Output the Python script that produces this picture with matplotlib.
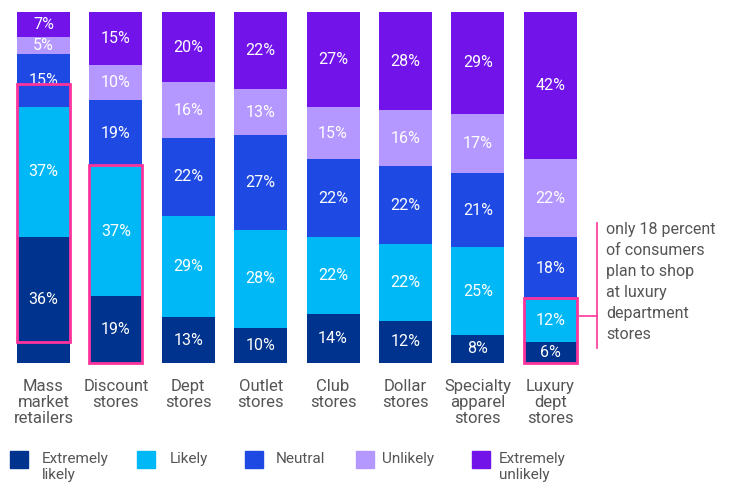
import matplotlib
matplotlib.use("Agg")
import matplotlib.pyplot as plt
from matplotlib.patches import Rectangle
from matplotlib.lines import Line2D
import numpy as np

categories = ["Mass\nmarket\nretailers", "Discount\nstores", "Dept\nstores", "Outlet\nstores",
              "Club\nstores", "Dollar\nstores", "Specialty\napparel\nstores", "Luxury\ndept\nstores"]
series_names = ["Extremely\nlikely", "Likely", "Neutral", "Unlikely", "Extremely\nunlikely"]
extremely_likely = [36, 19, 13, 10, 14, 12, 8, 6]
likely = [37, 37, 29, 28, 22, 22, 25, 12]
neutral = [15, 19, 22, 27, 22, 22, 21, 18]
unlikely = [5, 10, 16, 13, 15, 16, 17, 22]
extremely_unlikely = [7, 15, 20, 22, 27, 28, 29, 42]
highlighted = [0, 1, 7]
note = "only 18 percent\nof consumers\nplan to shop\nat luxury\ndepartment\nstores"

colors = ["#00338D", "#00B8F5", "#1E49E2", "#B497FF", "#7213EA"]
pink = "#FD349C"
textgray = "#555555"
font = "Roboto"
plt.rcParams['font.family'] = [font, 'DejaVu Sans']

W, H = 738, 483
fig = plt.figure(figsize=(W / 100, H / 100), dpi=100)
# axes spans full width; y from px 12 to 363
ax = fig.add_axes([0, (H - 363) / H, 1, 351 / H])
spacing = 72.4
x0 = 43.5
ax.set_xlim(-x0 / spacing, (W - x0) / spacing)
ax.set_ylim(0, 100)
ax.axis("off")

data = [extremely_likely, likely, neutral, unlikely, extremely_unlikely]
x = np.arange(len(categories))
bw = 53 / spacing
bottom = np.zeros(len(categories))
for vals, col in zip(data, colors):
    vals = np.array(vals, dtype=float)
    ax.bar(x, vals, bottom=bottom, width=bw, color=col, linewidth=0)
    for xi, b, v in zip(x, bottom, vals):
        ax.text(xi, b + v / 2, f"{int(v)}%", ha="center", va="center",
                color="white", fontsize=11.5)
    bottom += vals

# highlight boxes around likely + extremely likely
for i in highlighted:
    top = extremely_likely[i] + likely[i]
    off = 6 if i == 0 else 0
    ax.add_patch(Rectangle((x[i] - bw / 2, off), bw, top + 0.5, fill=False,
                           edgecolor=pink, linewidth=2, zorder=5, clip_on=False))

# category labels
for xi, c in zip(x, categories):
    ax.text(xi, -4.5, c, ha="center", va="top", fontsize=12, color=textgray,
            linespacing=1.08)

# annotation bracket
fig.add_artist(Line2D([597 / W, 597 / W], [1 - 223 / H, 1 - 348 / H], color=pink, lw=1.2))
fig.add_artist(Line2D([580 / W, 597 / W], [1 - 316 / H, 1 - 316 / H], color=pink, lw=1.2))
fig.text(606 / W, 1 - 222 / H, note, ha="left", va="top", fontsize=11.5,
         color=textgray, linespacing=1.5)

# legend
leg_sq = [10, 137, 245, 356, 472]
leg_tx = [42, 170, 276, 382, 499]
for name, col, sx, tx in zip(series_names, colors, leg_sq, leg_tx):
    fig.add_artist(Rectangle((sx / W, 1 - 468 / H), 18 / W, 17 / H, color=col,
                             transform=fig.transFigure))
    fig.text(tx / W, 1 - 452 / H, name, ha="left", va="top", fontsize=11,
             color=textgray, linespacing=1.15)

fig.savefig("out.png", dpi=100)
